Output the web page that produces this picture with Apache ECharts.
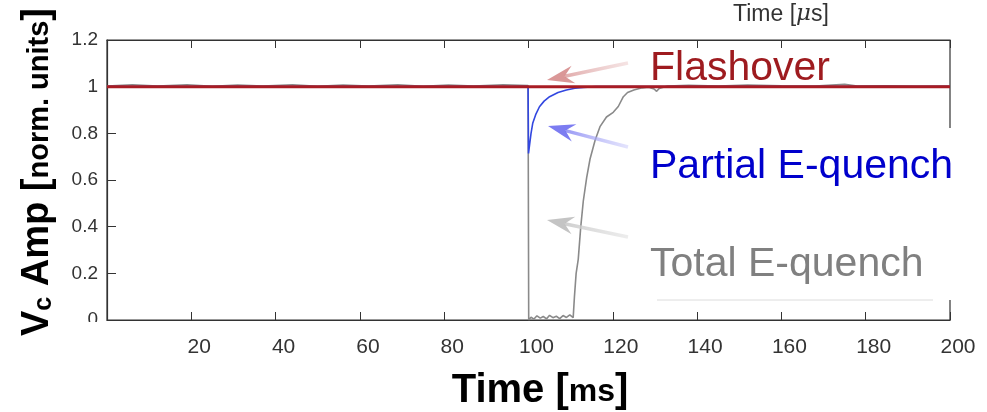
<!DOCTYPE html>
<html>
<head>
<meta charset="utf-8">
<script src="https://cdn.jsdelivr.net/npm/echarts@6/dist/echarts.min.js"></script>
<style>
  html, body { margin: 0; padding: 0; background: #fff; }
  #chart { width: 987px; height: 412px; }
</style>
</head>
<body>
<div id="chart"></div>
<script>
// 横轴刻度 (ms)
const xTicks = [0, 20, 40, 60, 80, 100, 120, 140, 160, 180, 200]
const yTicks = [0, 0.2, 0.4, 0.6, 0.8, 1, 1.2]

// Flashover: 一直保持 1
const flashT = [0, 200]
const flashV = [1, 1]

// Partial E-quench
const partialT = [0, 99.9, 100.0, 100.3, 100.6, 101, 101.7, 102.6, 103.7, 105, 107, 109, 111, 113, 116, 200]
const partialV = [1, 1, 0.714, 0.757, 0.8, 0.843, 0.88, 0.914, 0.938, 0.957, 0.975, 0.986, 0.993, 0.997, 1, 1]

// Total E-quench
const totalT = [0, 6, 12, 19, 25, 31, 37, 44, 50, 56, 62, 69, 75, 81, 87, 94, 99.9,
  100.05, 100.6, 101.3, 102, 102.8, 103.5, 104.3, 105, 105.8, 106.6, 107.4, 108.2, 109, 109.8, 110.6,
  110.9, 111.3, 111.8, 112.4, 113, 113.8, 114.6, 115.8, 117, 118.5, 120.1, 121.3, 122.5, 123.5, 125,
  127, 128.5, 129.8, 130.4, 131, 133, 138, 145, 152, 160, 168, 175, 178, 185, 192, 200]
const totalV = [1.003, 1.008, 1.003, 1.008, 1.002, 1.007, 1.003, 1.008, 1.002, 1.007, 1.003, 1.008, 1.002, 1.007, 1.003, 1.008, 1.005,
  0.0, 0.012, 0.004, 0.018, 0.008, 0.015, 0.005, 0.02, 0.01, 0.016, 0.006, 0.019, 0.011, 0.022, 0.01,
  0.1, 0.2, 0.26, 0.4, 0.51, 0.61, 0.69, 0.77, 0.83, 0.87, 0.89, 0.915, 0.957, 0.975, 0.986,
  0.995, 0.998, 0.99, 0.98, 0.992, 1.003, 1.006, 1.003, 1.007, 1.004, 1.003, 1.01, 1.003, 1.004, 1.002, 1.003]

const zip = (t, v) => t.map((x, i) => [x, v[i]])

// 标注箭头: 从 tail 指向 head, 尾部渐隐
function arrow (x1, y1, x2, y2, color, tail) {
  const dx = x2 - x1, dy = y2 - y1
  const len = Math.sqrt(dx * dx + dy * dy)
  const ux = dx / len, uy = dy / len
  const nx = -uy, ny = ux
  const hl = 24, hw = 9
  const bx = x2 - ux * hl, by = y2 - uy * hl
  return [
    {
      type: 'line', z: 100,
      shape: { x1: x1, y1: y1, x2: bx + ux * 6, y2: by + uy * 6 },
      style: {
        lineWidth: 3.5,
        stroke: new echarts.graphic.LinearGradient(x1, y1, x2, y2, [
          { offset: 0, color: tail },
          { offset: 1, color: color }
        ], true)
      }
    },
    {
      type: 'polygon', z: 100,
      shape: { points: [
        [x2, y2],
        [bx + nx * hw - ux * 3, by + ny * hw - uy * 3],
        [bx + ux * 6, by + uy * 6],
        [bx - nx * hw - ux * 3, by - ny * hw - uy * 3]
      ] },
      style: { fill: color }
    }
  ]
}

const chart = echarts.init(document.getElementById('chart'))
const font = 'Liberation Sans, Arial, sans-serif'

const option = {
  animation: false,
  backgroundColor: '#fff',
  grid: { left: 107, right: 37, top: 40, bottom: 92, show: true, borderColor: '#333', borderWidth: 1.2 },
  xAxis: [
    {
      type: 'value', min: 0, max: 200, interval: 20,
      axisLine: { show: true, lineStyle: { color: '#333', width: 1.2 } },
      axisTick: { show: true, inside: true, length: 8, lineStyle: { color: '#333' } },
      splitLine: { show: false },
      axisLabel: {
        color: '#333', fontFamily: font, fontSize: 21, margin: 17, padding: [0, 0, 0, 16],
        formatter: v => (v === 0 ? '' : String(v))
      }
    },
    {
      type: 'value', min: 0, max: 200, interval: 20, position: 'top',
      axisLine: { show: true, lineStyle: { color: '#333', width: 1.2 } },
      axisTick: { show: true, inside: true, length: 8, lineStyle: { color: '#333' } },
      splitLine: { show: false },
      axisLabel: { show: false }
    }
  ],
  yAxis: {
    type: 'value', min: 0, max: 1.2, interval: 0.2,
    axisLine: { show: true, lineStyle: { color: '#333', width: 1.2 } },
    axisTick: { show: true, inside: true, length: 9, lineStyle: { color: '#333' } },
    splitLine: { show: false },
    axisLabel: { color: '#333', fontFamily: font, fontSize: 19, margin: 9 }
  },
  series: [
    {
      name: 'Total E-quench', type: 'line', showSymbol: false, z: 2,
      data: zip(totalT, totalV),
      lineStyle: { color: '#8a8a8a', width: 1.6 }
    },
    {
      name: 'Partial E-quench', type: 'line', showSymbol: false, z: 3,
      data: zip(partialT, partialV),
      lineStyle: { color: '#3247e0', width: 1.6 }
    },
    {
      name: 'Flashover', type: 'line', showSymbol: false, z: 4,
      data: zip(flashT, flashV),
      lineStyle: { color: '#a81c24', width: 3 }
    }
  ],
  graphic: [
    // 右边框被标注遮住的部分
    { type: 'rect', z: 90, shape: { x: 944, y: 128, width: 10, height: 172 }, style: { fill: '#fff' } },
    // "0" 标签下半部分被裁掉
    { type: 'rect', z: 90, shape: { x: 60, y: 322, width: 44, height: 12 }, style: { fill: '#fff' } },
    {
      type: 'text', z: 100, left: 733, top: 3,
      style: {
        text: '{n|Time [}{i|\u03bc}{n|s]}',
        rich: {
          n: { font: '23px ' + font, fill: '#333' },
          i: { font: 'italic 23px DejaVu Serif, serif', fill: '#333' }
        }
      }
    },
    {
      type: 'text', z: 100, x: 650, y: 48,
      style: { text: 'Flashover', font: '41px ' + font, fill: '#9e1b1f' }
    },
    {
      type: 'text', z: 100, x: 650, y: 146,
      style: { text: 'Partial E-quench', font: '41px ' + font, fill: '#0000cc' }
    },
    {
      type: 'text', z: 100, x: 650, y: 244,
      style: { text: 'Total E-quench', font: '41px ' + font, fill: '#808080' }
    },
    { type: 'line', z: 100, shape: { x1: 657, y1: 300, x2: 933, y2: 300 }, style: { stroke: '#dcdcdc', lineWidth: 1 } },
    ...arrow(628, 63, 547, 80, 'rgba(214,140,140,0.9)', 'rgba(235,200,200,0.5)'),
    ...arrow(628, 147, 548, 126, 'rgba(110,110,240,0.9)', 'rgba(200,200,250,0.5)'),
    ...arrow(628, 237, 547, 220, 'rgba(190,190,190,0.9)', 'rgba(225,225,225,0.6)'),
    // 坐标轴名称
    {
      type: 'text', z: 100, x: 540, y: 411,
      style: {
        text: '{b|Time [}{s|ms}{b|]}',
        align: 'center', verticalAlign: 'bottom',
        rich: {
          b: { font: 'bold 40px ' + font, fill: '#000', verticalAlign: 'bottom' },
          s: { font: 'bold 32px ' + font, fill: '#000', verticalAlign: 'bottom', padding: [0, 0, 3, 0] }
        }
      }
    },
    {
      type: 'text', z: 100, x: 57, y: 172, rotation: Math.PI / 2,
      style: {
        text: '{b|V}{c|c}{b| Amp [}{s|norm. units}{b|]}',
        align: 'center', verticalAlign: 'bottom',
        rich: {
          b: { font: 'bold 38px ' + font, fill: '#000', verticalAlign: 'bottom' },
          c: { font: 'bold 25px ' + font, fill: '#000', verticalAlign: 'bottom' },
          s: { font: 'bold 29px ' + font, fill: '#000', verticalAlign: 'bottom', padding: [0, 0, 3, 0] }
        }
      }
    }
  ]
}
chart.setOption(option)
</script>
</body>
</html>
